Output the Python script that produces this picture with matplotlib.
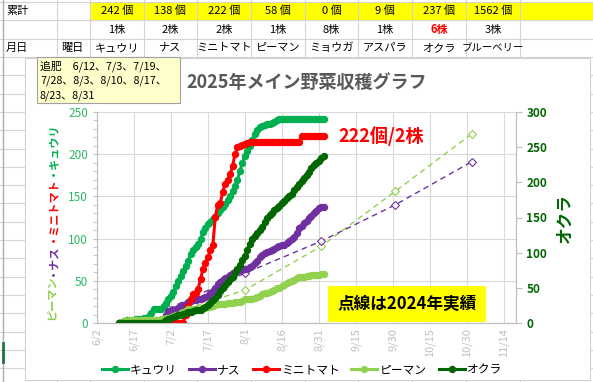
import matplotlib
matplotlib.use('Agg')
import matplotlib.pyplot as plt
from matplotlib.patches import Rectangle
import pandas as pd

plt.rcParams['font.family'] = ['Noto Sans CJK JP', 'DejaVu Sans']

# daily cumulative harvest 2025 (6/11 - 9/2)
dates = pd.date_range('2025-06-11', '2025-09-02')
kyuri = [0, 1, 2, 3, 3, 4, 4, 5, 5, 5,
         6, 6, 8, 12, 16, 16, 16, 17, 20, 24,
         28, 32, 37, 44, 50, 56, 62, 68, 74, 82,
         86, 90, 94, 99, 108, 113, 117, 120, 123, 126,
         130, 134, 137, 141, 146, 150, 156, 162, 170, 180,
         190, 198, 204, 210, 217, 224, 229, 232, 234, 235,
         236, 236, 237, 238, 240, 242, 242, 242, 242, 242] + [242] * 14
nasu = [0] * 17 + [1, 4, 9, 14, 14, 15, 16, 18, 20, 21,
                   22, 25, 26, 27, 27, 28, 28, 30, 31, 32,
                   35, 38, 42, 46, 49, 51, 53, 55, 57, 59,
                   61, 62, 63, 63, 64, 64, 66, 68, 71, 74,
                   78, 81, 83, 84, 85, 86, 88, 90, 91, 92,
                   93, 95, 97, 99, 102, 107, 112, 115, 118, 121,
                   124, 127, 130, 133, 136, 137, 138]
tomato = [0] * 27 + [10, 20, 28, 34, 35, 40, 52, 64, 71, 78,
                     86, 92, 126, 140, 142, 155, 165, 170, 176, 186,
                     200, 208, 210, 211, 212, 213] + [214] * 21 + [222] * 10
piman = [0, 1, 2, 2, 3, 3, 3, 3, 3, 4,
         4, 4, 4, 4, 4, 4, 4, 5, 5, 6,
         6, 7, 8, 9, 10, 12, 13, 14, 16, 16,
         16, 17, 17, 17, 18, 18, 19, 19, 20, 21,
         22, 22, 23, 23, 24, 24, 24, 25, 25, 25,
         26, 28, 28, 29, 29, 30, 31, 32, 34, 35,
         36, 37, 38, 39, 41, 42, 44, 45, 47, 48,
         50, 51, 53, 54, 55, 55, 56, 56, 57, 57,
         57, 57, 58, 58]
okra = [0] * 18 + [2, 4, 6, 7, 8, 10, 11, 12, 13, 14,
                   15, 16, 17, 18, 18, 19, 21, 23, 26, 29,
                   33, 36, 40, 46, 50, 54, 58, 62, 66, 71,
                   77, 83, 89, 95, 104, 113, 119, 123, 128, 132,
                   137, 143, 149, 153, 157, 160, 164, 167, 171, 174,
                   178, 181, 184, 189, 194, 198, 202, 206, 210, 215,
                   220, 224, 228, 231, 235, 237]

# 2024 results (monthly)
dates_2024 = pd.to_datetime(['2025-07-01', '2025-08-01', '2025-09-01', '2025-10-01', '2025-11-01'])
nasu_2024 = [17, 59, 97, 140, 191]
piman_2024 = [10, 39, 91, 156, 224]

# sheet header cells
totals = ['242 個', '138 個', '222 個', '58 個', '0 個', '9 個', '237 個', '1562 個']
stocks = ['1株', '2株', '2株', '1株', '8株', '1株', '6株', '3株']
crops = ['キュウリ', 'ナス', 'ミニトマト', 'ピーマン', 'ミョウガ', 'アスパラ', 'オクラ', 'ブルーベリー']

C_KYURI = '#00B050'
C_NASU = '#7030A0'
C_TOMATO = '#FF0000'
C_PIMAN = '#92D050'
C_OKRA = '#006600'

fig = plt.figure(figsize=(5.93, 3.82), dpi=100)

# ---- spreadsheet background (pixel coords) ----
bg = fig.add_axes([0, 0, 1, 1])
bg.set_xlim(0, 593)
bg.set_ylim(382, 0)
bg.axis('off')

bg.add_patch(Rectangle((90, 1.5), 503, 18.5, facecolor='#FFFF00', edgecolor='none', zorder=0))
rows = [1.5, 20, 39, 57] + [57 + 18.3 * k for k in range(1, 18)]
for y in rows:
    bg.plot([0, 593], [y, y], color='#D4D4D4', lw=0.8, zorder=1)
col_x = [3, 57, 90, 144, 197, 251, 305, 358, 412, 466, 520]
for x in col_x:
    bg.plot([x, x], [0, 382], color='#D4D4D4', lw=0.8, zorder=1)
bg.plot([3, 3], [0, 382], color='#B0B0B0', lw=1, zorder=1)
bg.plot([2.5, 2.5], [343, 362], color='#217346', lw=2, zorder=1)

hfs = 8
bg.text(6, 11, '累計', fontsize=hfs, va='center', zorder=1)
bg.text(6, 48, '月日', fontsize=hfs, va='center', zorder=1)
bg.text(61, 48, '曜日', fontsize=hfs, va='center', zorder=1)
for i in range(8):
    cx = (col_x[i + 2] + col_x[i + 3]) / 2
    bg.text(cx, 11, totals[i], fontsize=hfs, ha='center', va='center', zorder=1)
    red = stocks[i] == '6株'
    bg.text(cx, 30, stocks[i], fontsize=hfs, ha='center', va='center', zorder=1,
            color='red' if red else 'black', fontweight='bold' if red else 'normal')
    bg.text(cx, 48, crops[i], fontsize=hfs if len(crops[i]) < 6 else 7.5,
            ha='center', va='center', zorder=1)

# chart frame
bg.add_patch(Rectangle((25, 58), 565, 322, facecolor='white', edgecolor='#D0D0D0', lw=0.8, zorder=2))

# note
bg.add_patch(Rectangle((37, 57), 143, 46, facecolor='#FFFFCC', edgecolor='#A0A0A0', lw=0.8, zorder=3))
note = ['追肥　6/12、7/3、7/19、', '7/28、8/3、8/10、8/17、', '8/23、8/31']
for i, s in enumerate(note):
    bg.text(40, 66 + 15 * i, s, fontsize=7.8, va='center', zorder=4)

bg.text(307, 83, '2025年メイン野菜収穫グラフ', fontsize=13, fontweight='bold',
        color='#595959', ha='center', va='center', zorder=4)

# ---- chart ----
ax = fig.add_axes([97 / 593, 1 - 323 / 382, 419 / 593, 211 / 382])
ax.patch.set_alpha(0)
ax2 = ax.twinx()

ax.plot(dates_2024, piman_2024, color=C_PIMAN, lw=1, ls=(0, (4, 3)), marker='D', ms=4,
        mfc='white', mec=C_PIMAN, mew=0.8, zorder=2)
ax.plot(dates_2024, nasu_2024, color=C_NASU, lw=1, ls=(0, (4, 3)), marker='D', ms=4,
        mfc='white', mec=C_NASU, mew=0.8, zorder=2)

kw = dict(marker='o', ms=4.3, lw=2.2)
l1, = ax.plot(dates, kyuri, color=C_KYURI, label='キュウリ', zorder=3, **kw)
l2, = ax.plot(dates, nasu, color=C_NASU, label='ナス', zorder=3, **kw)
l3, = ax.plot(dates, tomato, color=C_TOMATO, label='ミニトマト', zorder=3, **kw)
l4, = ax.plot(dates, piman, color=C_PIMAN, label='ピーマン', zorder=3, **kw)
l5, = ax2.plot(dates, okra, color=C_OKRA, label='オクラ', **kw)

start = pd.Timestamp('2025-06-02')
ax.set_xlim(start, pd.Timestamp('2025-11-19'))
xt = pd.date_range(start, '2025-11-14', freq='15D')
ax.set_xticks(xt)
ax.set_xticklabels([f'{d.month}/{d.day}' for d in xt], rotation=90, fontsize=8, color='#595959')

ax.set_ylim(0, 250)
ax.set_yticks(range(0, 251, 50))
ax.set_yticks(range(0, 251, 10), minor=True)
ax.tick_params(axis='y', which='both', colors='#BFBFBF', labelcolor='#2DB864', labelsize=8.5, length=3)
ax.tick_params(axis='x', colors='#BFBFBF', length=0)
ax.grid(True, color='#D9D9D9', lw=0.8)
ax.set_axisbelow(True)

ax2.set_ylim(0, 300)
ax2.set_yticks(range(0, 301, 50))
ax2.tick_params(axis='y', colors='#BFBFBF', labelcolor=C_OKRA, labelsize=8.5, length=4)
for t in ax2.get_yticklabels():
    t.set_fontweight('bold')

for a in (ax, ax2):
    a.spines['top'].set_visible(False)
    for s in ('left', 'right', 'bottom'):
        a.spines[s].set_color('#BFBFBF')

ax.text(pd.Timestamp('2025-09-08'), 222, '222個/2株', color='red', fontsize=13,
        fontweight='bold', va='center', zorder=5)
ax.text(0.74, 0.09, '点線は2024年実績', transform=ax.transAxes, fontsize=12, fontweight='bold',
        ha='center', va='center', zorder=5,
        bbox=dict(boxstyle='square,pad=0.55', facecolor='#FFFF00', edgecolor='none'))

# right axis title
fig.text(565 / 593, 1 - 218 / 382, 'オクラ', rotation=90, color=C_OKRA, fontsize=12,
         fontweight='bold', ha='center', va='center')

# multi colored left axis title, centred on the plot
renderer = fig.canvas.get_renderer()
parts = [('ピーマン', C_PIMAN), ('・ナス', C_NASU), ('・ミニトマト', C_TOMATO), ('・キュウリ', C_KYURI)]
texts = []
heights = []
for txt, col in parts:
    t = fig.text(51 / 593, 0, txt, rotation=90, color=col, fontsize=8, fontweight='bold',
                 ha='center', va='bottom')
    bb = t.get_window_extent(renderer)
    texts.append(t)
    heights.append(bb.height / fig.bbox.height)
y = (1 - 220 / 382) - sum(heights) / 2
for t, h in zip(texts, heights):
    t.set_y(y)
    y += h

fig.legend([l1, l2, l3, l4, l5], ['キュウリ', 'ナス', 'ミニトマト', 'ピーマン', 'オクラ'],
           loc='center', bbox_to_anchor=(302 / 593, 1 - 370 / 382), ncol=5, frameon=False,
           fontsize=8.5, handlelength=2.2, columnspacing=1.0, handletextpad=0.2)

fig.savefig('out.png', dpi=100)
